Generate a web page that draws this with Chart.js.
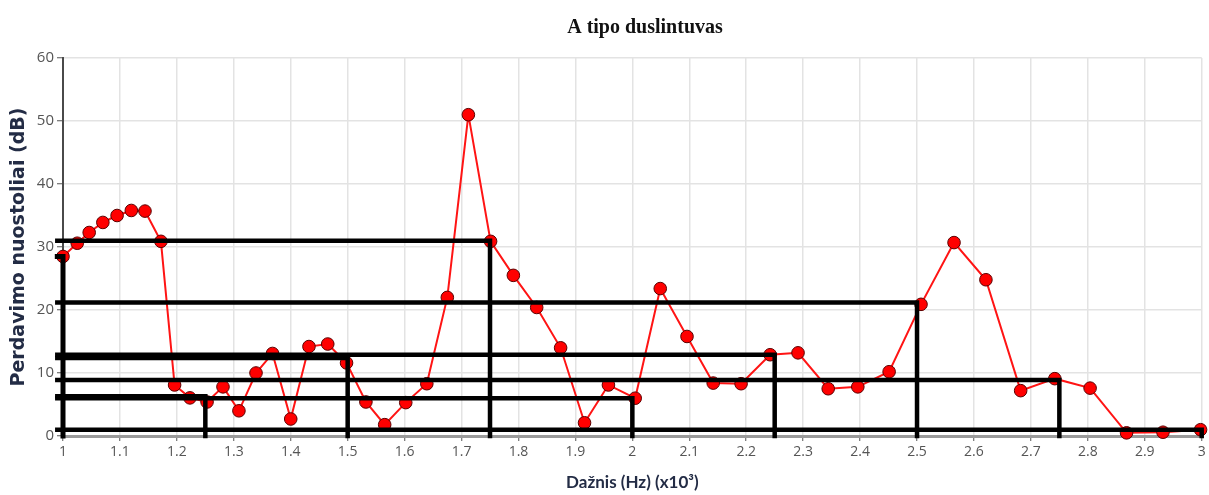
<!DOCTYPE html>
<html>
<head>
<meta charset="utf-8">
<script src="https://cdn.jsdelivr.net/npm/chart.js@4.4.1/dist/chart.umd.min.js"></script>
<style>
  html, body { margin: 0; padding: 0; background: #ffffff; }
  #wrap { width: 1209px; height: 495px; position: relative; }
</style>
</head>
<body>
<div id="wrap"><canvas id="c" width="1209" height="495"></canvas></div>
<script>
// ---- data ----
const chartTitle = 'A tipo duslintuvas';
const xTitle = 'Dažnis (Hz) (x10³)';
const yTitle = 'Perdavimo nuostoliai (dB)';

const freqX = [1.0, 1.025, 1.046, 1.07, 1.095, 1.12, 1.144, 1.172, 1.196, 1.223,
  1.253, 1.281, 1.309, 1.339, 1.368, 1.4, 1.432, 1.465, 1.498, 1.532,
  1.565, 1.602, 1.639, 1.675, 1.712, 1.751, 1.791, 1.832, 1.874, 1.916,
  1.958, 2.005, 2.049, 2.096, 2.142, 2.191, 2.242, 2.291, 2.344, 2.396,
  2.451, 2.507, 2.565, 2.621, 2.682, 2.742, 2.804, 2.868, 2.932, 2.998];
const lossY = [28.5, 30.6, 32.3, 33.9, 35.0, 35.8, 35.7, 30.9, 8.1, 6.05,
  5.4, 7.8, 4.0, 10.0, 13.1, 2.7, 14.2, 14.6, 11.6, 5.4,
  1.8, 5.3, 8.3, 22.0, 51.0, 30.9, 25.5, 20.4, 14.0, 2.1,
  8.1, 6.0, 23.4, 15.8, 8.4, 8.3, 12.9, 13.2, 7.5, 7.8,
  10.2, 20.9, 30.7, 24.8, 7.2, 9.1, 7.6, 0.5, 0.6, 1.0];

// black reading lines: horizontal from the left edge to (stepX, stepY), then down to 0
const stepStartX = 0.99;
const stepX = [1.0, 1.25, 1.5, 1.75, 2.0, 2.25, 2.5, 2.75, 3.0];
const stepY = [28.5, 6.3, 12.4, 31.0, 6.0, 12.9, 21.2, 8.9, 1.0];

const xTickLabels = ['1','1.1','1.2','1.3','1.4','1.5','1.6','1.7','1.8','1.9','2',
  '2.1','2.2','2.3','2.4','2.5','2.6','2.7','2.8','2.9','3'];
const yTickLabels = ['0','10','20','30','40','50','60'];

// ---- build datasets ----
const curve = freqX.map((x, i) => ({ x: x, y: lossY[i] }));
const stepSets = stepX.map((sx, i) => ({
  data: [{ x: stepStartX, y: stepY[i] }, { x: sx, y: stepY[i] }, { x: sx, y: 0 }],
  borderColor: '#000000',
  borderWidth: i === 0 ? 5 : 4.5,
  borderCapStyle: 'square',
  borderJoinStyle: 'miter',
  pointRadius: 0,
  pointHoverRadius: 0,
  fill: false,
  tension: 0,
  clip: false,
  order: 0
}));

const titlePlugin = {
  id: 'topTitle',
  afterDraw(chart) {
    const ctx = chart.ctx;
    ctx.save();
    ctx.font = 'bold 20px "Liberation Serif", serif';
    ctx.fillStyle = '#111111';
    ctx.textAlign = 'center';
    ctx.textBaseline = 'middle';
    ctx.fillText(chartTitle, 645, 28);
    ctx.restore();
  }
};

new Chart(document.getElementById('c'), {
  type: 'line',
  data: {
    datasets: [
      {
        data: curve,
        borderColor: '#ff1414',
        borderWidth: 2,
        backgroundColor: '#ff0000',
        pointBackgroundColor: '#ff0000',
        pointBorderColor: '#5a0000',
        pointBorderWidth: 1,
        pointRadius: 6.3,
        pointHoverRadius: 6.3,
        tension: 0,
        fill: false,
        clip: false,
        order: 1
      },
      ...stepSets
    ]
  },
  options: {
    responsive: false,
    animation: false,
    events: [],
    layout: { padding: { top: 58, right: 5, left: 0, bottom: 0 } },
    plugins: {
      legend: { display: false },
      tooltip: { enabled: false },
      title: { display: false }
    },
    scales: {
      x: {
        type: 'linear',
        min: 1,
        max: 3,
        afterFit(scale) { scale.height = 59; },
        afterBuildTicks(scale) {
          scale.ticks = xTickLabels.map(t => ({ value: parseFloat(t) }));
        },
        ticks: {
          autoSkip: false,
          maxRotation: 0,
          padding: 3,
          color: '#555555',
          font: { family: '"Open Sans", sans-serif', size: 14 },
          callback: (v, i) => xTickLabels[i]
        },
        grid: {
          color: '#e3e3e3',
          lineWidth: 1.5,
          tickLength: 5,
          tickColor: '#555555',
          tickWidth: 1
        },
        border: { color: '#9a9a9a', width: 3 },
        title: {
          display: true,
          text: xTitle,
          color: '#232c45',
          font: { family: 'Lato, sans-serif', size: 17, weight: 'bold', lineHeight: 1.2 },
          padding: { top: 4, bottom: 2 }
        }
      },
      y: {
        type: 'linear',
        min: 0,
        max: 60,
        afterFit(scale) { scale.width = 63; },
        afterBuildTicks(scale) {
          scale.ticks = yTickLabels.map(t => ({ value: parseFloat(t) }));
        },
        ticks: {
          padding: 3,
          color: '#555555',
          font: { family: '"Open Sans", sans-serif', size: 15 },
          callback: (v, i) => yTickLabels[i]
        },
        grid: {
          color: '#e3e3e3',
          lineWidth: 1.5,
          tickLength: 6,
          tickColor: '#555555',
          tickWidth: 1
        },
        border: { color: '#4a4a4a', width: 2 },
        title: {
          display: true,
          text: yTitle,
          color: '#232c45',
          font: { family: '"DejaVu Sans", sans-serif', size: 19, weight: 'bold', lineHeight: 1.2 },
          padding: { top: 8, bottom: 6 }
        }
      }
    }
  },
  plugins: [titlePlugin]
});
</script>
</body>
</html>
